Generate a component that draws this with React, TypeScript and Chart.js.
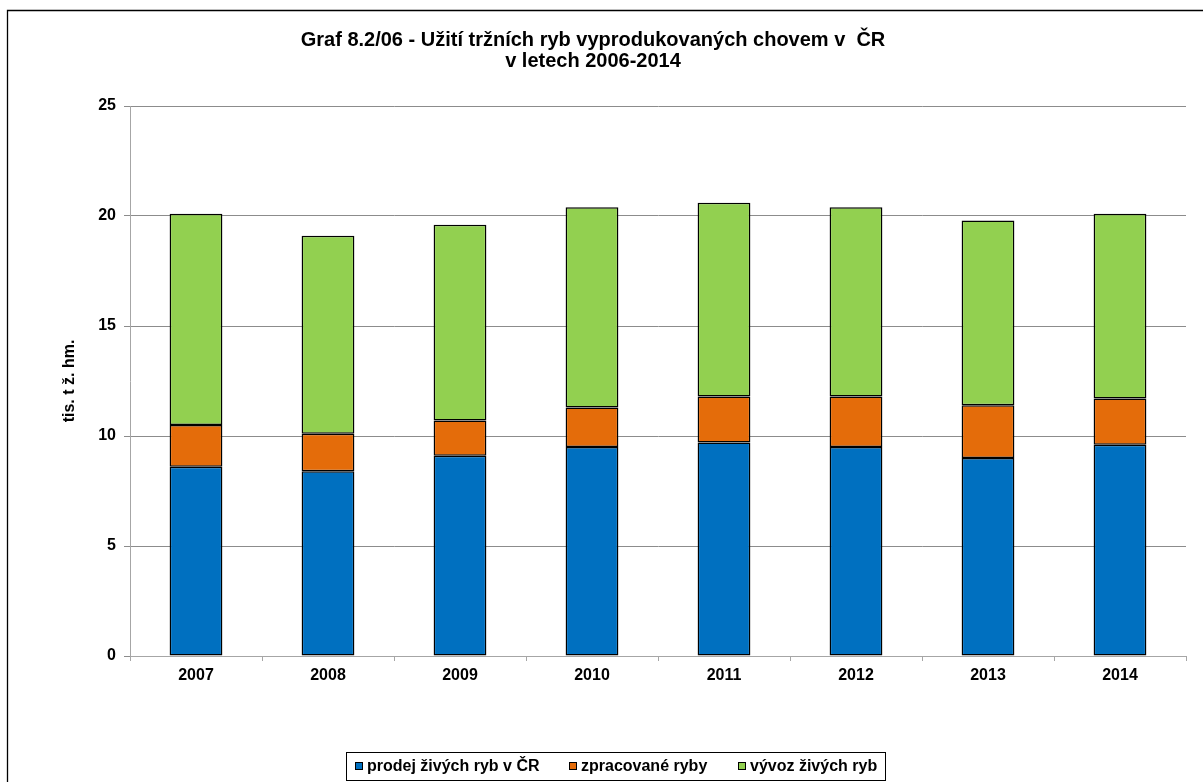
import React, { useEffect, useRef } from 'react';
import { Chart, registerables } from 'chart.js';

Chart.register(...registerables);

const years = ['2007', '2008', '2009', '2010', '2011', '2012', '2013', '2014'];
const prodejZivych = [8.6, 8.4, 9.1, 9.5, 9.7, 9.5, 9.0, 9.6];
const zpracovane = [1.9, 1.7, 1.6, 1.8, 2.1, 2.3, 2.4, 2.1];
const vyvozZivych = [9.6, 9.0, 8.9, 9.1, 8.8, 8.6, 8.4, 8.4];
const seriesNames = ['prodej živých ryb v ČR', 'zpracované ryby', 'vývoz živých ryb'];
const seriesColors = ['#0070C0', '#E46C0A', '#92D050'];
const titleLines = ['Graf 8.2/06 - Užití tržních ryb vyprodukovaných chovem v  ČR', 'v letech 2006-2014'];
const yAxisTitle = 'tis. t ž. hm.';
const yMin = 0;
const yMax = 25;
const yStep = 5;

const FONT = '"Liberation Sans", Arial, sans-serif';

const framePlugin = {
  id: 'frame',
  beforeDraw(chart: any) {
    const ctx = chart.ctx;
    ctx.save();
    ctx.fillStyle = '#ffffff';
    ctx.fillRect(0, 0, chart.width, chart.height);
    ctx.strokeStyle = '#000000';
    ctx.lineWidth = 1.3;
    ctx.beginPath();
    ctx.moveTo(7.5, chart.height);
    ctx.lineTo(7.5, 10.5);
    ctx.lineTo(chart.width, 10.5);
    ctx.stroke();
    ctx.restore();
  },
};

const boxLegendPlugin = {
  id: 'boxLegend',
  afterDraw(chart: any) {
    const ctx = chart.ctx;
    ctx.save();
    ctx.font = 'bold 16px ' + FONT;
    const items = chart.data.datasets.map((ds: any) => ({ label: ds.label, color: ds.backgroundColor }));
    const sq = 8;
    const gapText = 4;
    const gapItems = 30;
    const widths = items.map((it: any) => sq + gapText + ctx.measureText(it.label).width);
    const total = widths.reduce((a: number, b: number) => a + b, 0) + gapItems * (items.length - 1);
    const boxL = 346, boxR = 885, boxT = 752, boxB = 780;
    let x = Math.round((boxL + boxR) / 2 - total / 2);
    const cy = 766;
    ctx.textBaseline = 'middle';
    ctx.textAlign = 'left';
    items.forEach((it: any, i: number) => {
      const xi = Math.round(x);
      ctx.fillStyle = it.color;
      ctx.fillRect(xi, cy - sq / 2, sq, sq);
      ctx.strokeStyle = '#000';
      ctx.lineWidth = 1;
      ctx.strokeRect(xi + 0.5, cy - sq / 2 + 0.5, sq - 1, sq - 1);
      ctx.fillStyle = '#000';
      ctx.fillText(it.label, xi + sq + gapText, cy + 1);
      x += widths[i] + gapItems;
    });
    ctx.strokeStyle = '#000';
    ctx.lineWidth = 1;
    ctx.strokeRect(boxL + 0.5, boxT + 0.5, boxR - boxL, boxB - boxT);
    ctx.restore();
  },
};

export default function App() {
  const ref = useRef<HTMLCanvasElement | null>(null);

  useEffect(() => {
    if (!ref.current) return;
    const datasets = [prodejZivych, zpracovane, vyvozZivych].map((vals, i) => ({
      label: seriesNames[i],
      data: vals,
      backgroundColor: seriesColors[i],
      borderColor: '#000000',
      borderWidth: 1.5,
      borderSkipped: false as any,
      barPercentage: 0.4,
      categoryPercentage: 1.0,
    }));
    const chart = new Chart(ref.current, {
      type: 'bar',
      data: { labels: years, datasets },
      options: {
        responsive: false,
        animation: false,
        devicePixelRatio: 1,
        layout: { padding: { left: 0, right: 17, top: 24, bottom: 0 } },
        plugins: {
          legend: { display: false },
          tooltip: { enabled: false },
          title: {
            display: true,
            text: titleLines,
            color: '#000',
            font: { family: FONT, size: 20, weight: 'bold', lineHeight: 1.05 },
            padding: { top: 6, bottom: 34 },
          },
        },
        scales: {
          x: {
            stacked: true,
            grid: {
              display: true,
              drawOnChartArea: false,
              offset: true,
              tickLength: 5,
              color: '#a6a6a6',
            },
            border: { display: true, color: '#a6a6a6', width: 1 },
            ticks: {
              color: '#000',
              font: { family: FONT, size: 16, weight: 'bold' },
              padding: 5,
            },
            afterFit(scale: any) {
              scale.height = 126;
            },
          },
          y: {
            stacked: true,
            min: yMin,
            max: yMax,
            ticks: {
              stepSize: yStep,
              color: '#000',
              font: { family: FONT, size: 16, weight: 'bold' },
              padding: 8,
            },
            grid: {
              color: '#8c8c8c',
              tickLength: 6,
            },
            border: { display: true, color: '#a6a6a6', width: 1 },
            title: {
              display: true,
              text: yAxisTitle,
              color: '#000',
              font: { family: FONT, size: 16, weight: 'bold' },
              padding: { top: 60, bottom: 0 },
            },
            afterFit(scale: any) {
              scale.width = 130;
            },
          },
        },
      },
      plugins: [framePlugin, boxLegendPlugin],
    });
    return () => chart.destroy();
  }, []);

  return (
    <div style={{ position: 'fixed', left: 0, top: 0, width: 1203, height: 782 }}>
      <canvas ref={ref} width={1203} height={782} style={{ display: 'block' }} />
    </div>
  );
}
